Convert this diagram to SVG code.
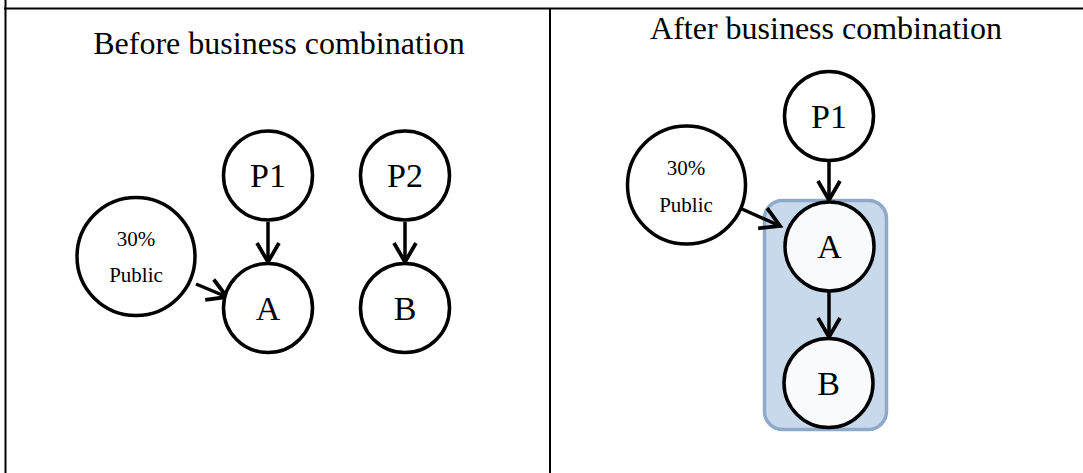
<svg xmlns="http://www.w3.org/2000/svg" width="1083" height="473" viewBox="0 0 1083 473">
<style>
.bd{stroke:#000;stroke-width:2;fill:none}
.nd{fill:#fff;stroke:#000;stroke-width:3.5}
.nd2{fill:#f8fafd;stroke:#000;stroke-width:3.5}
.t{font-family:"Liberation Serif","Times New Roman",serif;fill:#000;text-anchor:middle}
.big{font-size:32px}
.lb{font-size:34px}
.sm{font-size:21px}
.cn{stroke:#000;stroke-width:3.5;fill:none;marker-end:url(#ah)}
</style>
<defs>
<marker id="ah" markerUnits="userSpaceOnUse" markerWidth="30" markerHeight="30" viewBox="-25 -15 30 30" refX="0" refY="0" orient="auto" overflow="visible">
<path d="M-19,-11 L0,0 L-19,11" fill="none" stroke="#000" stroke-width="3.8" stroke-linecap="butt" stroke-linejoin="miter"/>
</marker>
</defs>
<rect width="1083" height="473" fill="#fff"/>
<g id="frame">
<line class="bd" x1="4" y1="8.5" x2="1083" y2="8.5" stroke-width="3"/>
<line class="bd" x1="5.5" y1="0" x2="5.5" y2="473"/>
<line class="bd" x1="550" y1="8" x2="550" y2="473"/>
</g>
<g id="titles">
<text class="t big" x="279" y="54">Before business combination</text>
<text class="t big" x="826" y="39">After business combination</text>
</g>
<g id="group-box">
<rect x="764.5" y="200.5" width="122" height="229" rx="18" ry="18" fill="#c9d9ec" stroke="#8fa9c9" stroke-width="3.5"/>
</g>
<g id="connectors">
<line class="cn" x1="268" y1="222" x2="268" y2="262"/>
<line class="cn" x1="405" y1="222" x2="405" y2="262"/>
<line class="cn" x1="196" y1="284" x2="227" y2="297"/>
<line class="cn" x1="829" y1="160" x2="829" y2="200"/>
<line class="cn" x1="733" y1="205" x2="780" y2="226"/>
<line class="cn" x1="829" y1="292" x2="829" y2="337"/>
</g>
<g id="node-public-before">
<circle class="nd" cx="136" cy="256.5" r="59"/>
<text class="t sm" x="136" y="246">30%</text>
<text class="t sm" x="136" y="282">Public</text>
</g>
<g id="node-p1-before">
<circle class="nd" cx="268" cy="175.5" r="44.5"/>
<text class="t lb" x="268" y="187">P1</text>
</g>
<g id="node-p2-before">
<circle class="nd" cx="405" cy="175.5" r="44.5"/>
<text class="t lb" x="405" y="187">P2</text>
</g>
<g id="node-a-before">
<circle class="nd" cx="268" cy="308" r="44.5"/>
<text class="t lb" x="268" y="320">A</text>
</g>
<g id="node-b-before">
<circle class="nd" cx="405" cy="308" r="44.5"/>
<text class="t lb" x="405" y="320">B</text>
</g>
<g id="node-public-after">
<circle class="nd" cx="686.5" cy="185" r="59"/>
<text class="t sm" x="686" y="175">30%</text>
<text class="t sm" x="686" y="212">Public</text>
</g>
<g id="node-p1-after">
<circle class="nd" cx="829" cy="116" r="44.5"/>
<text class="t lb" x="829" y="128">P1</text>
</g>
<g id="node-a-after">
<circle class="nd2" cx="829.5" cy="246.5" r="44.5"/>
<text class="t lb" x="829.5" y="258">A</text>
</g>
<g id="node-b-after">
<circle class="nd2" cx="828.5" cy="383" r="44.5"/>
<text class="t lb" x="828.5" y="395">B</text>
</g>
</svg>
